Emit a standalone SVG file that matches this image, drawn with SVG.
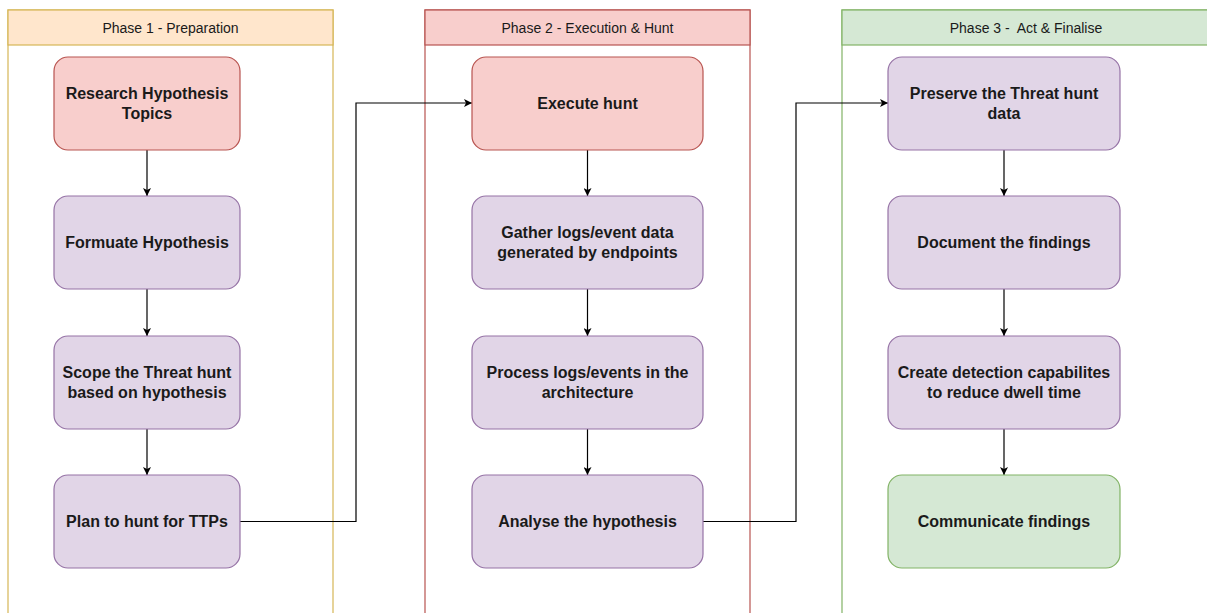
<svg xmlns="http://www.w3.org/2000/svg" width="1207" height="613" viewBox="0 0 1207 613">
<style>
.lane{fill:#ffffff;stroke-width:1.2}
.hdr{font-family:"Liberation Sans",Arial,sans-serif;font-size:14px;fill:#1a1a1a;text-anchor:middle;dominant-baseline:central}
.box{stroke-width:1.2}
.red{fill:#f8cecc;stroke:#b85450}
.pur{fill:#e1d5e7;stroke:#9673a6}
.grn{fill:#d5e8d4;stroke:#82b366}
.lbl{font-family:"Liberation Sans",Arial,sans-serif;font-size:16px;font-weight:bold;fill:#1a1a1a;text-anchor:middle;dominant-baseline:central}
.conn{fill:none;stroke:#000;stroke-width:1.2}
</style>
<defs>
<marker id="arr" viewBox="0 0 10 10" refX="10" refY="5" markerWidth="8" markerHeight="8" markerUnits="userSpaceOnUse" orient="auto">
<path d="M0,0 L10,5 L0,10 L2.5,5 Z" fill="#000"/>
</marker>
</defs>
<rect width="1207" height="613" fill="#ffffff"/>

<g id="phase1">
<rect class="lane" x="8" y="10" width="325" height="620" stroke="#d6b656"/>
<rect x="8" y="10" width="325" height="35" fill="#ffe6cc" stroke="#d6b656" stroke-width="1.2"/>
<text class="hdr" x="170.5" y="27.5">Phase 1 - Preparation</text>
</g>
<g id="phase2">
<rect class="lane" x="425" y="10" width="325" height="620" stroke="#b85450"/>
<rect x="425" y="10" width="325" height="35" fill="#f8cecc" stroke="#b85450" stroke-width="1.2"/>
<text class="hdr" x="587.5" y="27.5">Phase 2 - Execution &amp; Hunt</text>
</g>
<g id="phase3">
<rect class="lane" x="842" y="10" width="370" height="620" stroke="#82b366"/>
<rect x="842" y="10" width="370" height="35" fill="#d5e8d4" stroke="#82b366" stroke-width="1.2"/>
<text class="hdr" x="1026" y="27.5" xml:space="preserve">Phase 3 -  Act &amp; Finalise</text>
</g>

<g id="connectors">
<path class="conn" d="M147,150 V196" marker-end="url(#arr)"/>
<path class="conn" d="M147,289 V336" marker-end="url(#arr)"/>
<path class="conn" d="M147,429 V475" marker-end="url(#arr)"/>
<path class="conn" d="M587.5,150 V196" marker-end="url(#arr)"/>
<path class="conn" d="M587.5,289 V336" marker-end="url(#arr)"/>
<path class="conn" d="M587.5,429 V475" marker-end="url(#arr)"/>
<path class="conn" d="M1004,150 V196" marker-end="url(#arr)"/>
<path class="conn" d="M1004,289 V336" marker-end="url(#arr)"/>
<path class="conn" d="M1004,429 V475" marker-end="url(#arr)"/>
<path class="conn" d="M240,521.5 H356 V103 H472" marker-end="url(#arr)"/>
<path class="conn" d="M703,521.5 H796 V103 H888" marker-end="url(#arr)"/>
</g>

<g id="research">
<rect class="box red" x="54" y="57" width="186" height="93" rx="14"/>
<text class="lbl" x="147" y="93.5">Research Hypothesis</text>
<text class="lbl" x="147" y="113.5">Topics</text>
</g>
<g id="formulate">
<rect class="box pur" x="54" y="196" width="186" height="93" rx="14"/>
<text class="lbl" x="147" y="242.5">Formuate Hypothesis</text>
</g>
<g id="scope">
<rect class="box pur" x="54" y="336" width="186" height="93" rx="14"/>
<text class="lbl" x="147" y="372.5">Scope the Threat hunt</text>
<text class="lbl" x="147" y="392.5">based on hypothesis</text>
</g>
<g id="plan">
<rect class="box pur" x="54" y="475" width="186" height="93" rx="14"/>
<text class="lbl" x="147" y="521.5">Plan to hunt for TTPs</text>
</g>

<g id="execute">
<rect class="box red" x="472" y="57" width="231" height="93" rx="14"/>
<text class="lbl" x="587.5" y="103.5">Execute hunt</text>
</g>
<g id="gather">
<rect class="box pur" x="472" y="196" width="231" height="93" rx="14"/>
<text class="lbl" x="587.5" y="232.5">Gather logs/event data</text>
<text class="lbl" x="587.5" y="252.5">generated by endpoints</text>
</g>
<g id="process">
<rect class="box pur" x="472" y="336" width="231" height="93" rx="14"/>
<text class="lbl" x="587.5" y="372.5">Process logs/events in the</text>
<text class="lbl" x="587.5" y="392.5">architecture</text>
</g>
<g id="analyse">
<rect class="box pur" x="472" y="475" width="231" height="93" rx="14"/>
<text class="lbl" x="587.5" y="521.5">Analyse the hypothesis</text>
</g>

<g id="preserve">
<rect class="box pur" x="888" y="57" width="232" height="93" rx="14"/>
<text class="lbl" x="1004" y="93.5">Preserve the Threat hunt</text>
<text class="lbl" x="1004" y="113.5">data</text>
</g>
<g id="document">
<rect class="box pur" x="888" y="196" width="232" height="93" rx="14"/>
<text class="lbl" x="1004" y="242.5">Document the findings</text>
</g>
<g id="create">
<rect class="box pur" x="888" y="336" width="232" height="93" rx="14"/>
<text class="lbl" x="1004" y="372.5">Create detection capabilites</text>
<text class="lbl" x="1004" y="392.5">to reduce dwell time</text>
</g>
<g id="communicate">
<rect class="box grn" x="888" y="475" width="232" height="93" rx="14"/>
<text class="lbl" x="1004" y="521.5">Communicate findings</text>
</g>
</svg>
